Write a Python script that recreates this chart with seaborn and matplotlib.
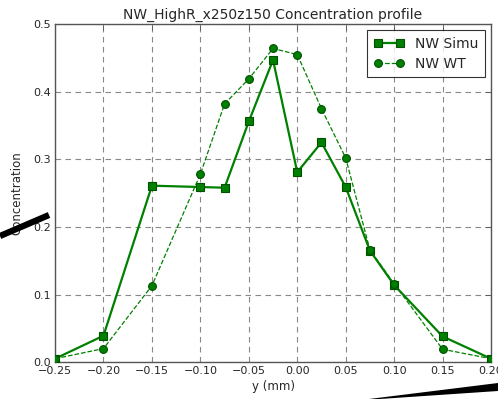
import matplotlib
matplotlib.use("Agg")
import matplotlib.pyplot as plt
from matplotlib.lines import Line2D
from matplotlib.patches import Polygon
import seaborn as sns
import pandas as pd

# Position across the channel (mm)
y_mm = [-0.25, -0.20, -0.15, -0.10, -0.075, -0.05, -0.025, 0.0,
        0.025, 0.05, 0.075, 0.10, 0.15, 0.20]
# Concentration from simulation
nw_simu = [0.005, 0.039, 0.261, 0.259, 0.258, 0.356, 0.447, 0.281,
           0.325, 0.259, 0.165, 0.114, 0.038, 0.005]
# Concentration from wind-tunnel measurement
nw_wt = [0.005, 0.020, 0.113, 0.278, 0.382, 0.419, 0.464, 0.455,
         0.375, 0.302, 0.166, 0.116, 0.019, 0.005]

x_ticks = [-0.25, -0.20, -0.15, -0.10, -0.05, 0.00, 0.05, 0.10, 0.15, 0.20]
y_ticks = [0.0, 0.1, 0.2, 0.3, 0.4, 0.5]

sns.set_style("white")
plt.rcParams["font.family"] = ["DejaVu Sans"]
plt.rcParams["xtick.direction"] = "in"
plt.rcParams["ytick.direction"] = "in"

df = pd.DataFrame({"y": y_mm, "simu": nw_simu, "wt": nw_wt})

fig = plt.figure(figsize=(4.98, 3.99), dpi=100)
ax = fig.add_axes([0.1105, 0.0925, 0.8755, 0.847])

green = "#008000"
sns.lineplot(data=df, x="y", y="simu", ax=ax, color=green, marker="s",
             markersize=6.3, markeredgecolor="#005000", markeredgewidth=0.8,
             linewidth=1.6, label="NW Simu", zorder=3)
sns.lineplot(data=df, x="y", y="wt", ax=ax, color=green, marker="o",
             markersize=5.6, markeredgecolor="#005000", markeredgewidth=0.8,
             linewidth=0.9, linestyle="--", label="NW WT", zorder=3)

ax.set_xlim(-0.25, 0.20)
ax.set_ylim(0.0, 0.5)
ax.set_xticks(x_ticks)
ax.set_yticks(y_ticks)
ax.set_xticklabels([f"{t:.2f}".replace("-", "\u2212") for t in x_ticks], fontsize=8)
ax.set_yticklabels([f"{t:.1f}" for t in y_ticks], fontsize=8)
ax.tick_params(axis="both", which="both", top=True, right=True, length=4,
               width=0.6, color="#555555", pad=3)

ax.grid(True, linestyle=(0, (5, 4)), color="#888888", linewidth=0.8)
ax.set_axisbelow(True)
for s in ax.spines.values():
    s.set_color("#555555")
    s.set_linewidth(1.0)

ax.set_title("NW_HighR_x250z150 Concentration profile", fontsize=10, pad=4)
ax.set_xlabel("y (mm)", fontsize=8.5, labelpad=3)
ax.set_ylabel("Concentration", fontsize=8.5, labelpad=7)

leg = ax.legend(loc="upper right", fontsize=10, numpoints=2, fancybox=False,
                frameon=True, handlelength=2.2, borderpad=0.45,
                labelspacing=0.45, handletextpad=0.8, borderaxespad=0.45)
leg.get_frame().set_edgecolor("black")
leg.get_frame().set_linewidth(0.8)

# dark strokes along the figure edges
W, H = 498.0, 399.0
fig.add_artist(Line2D([0 / W, 49 / W], [1 - 236 / H, 1 - 215 / H],
                      transform=fig.transFigure, color="black", linewidth=4.5,
                      solid_capstyle="butt"))
fig.add_artist(Polygon([[365 / W, 1 - 399.5 / H], [498 / W, 1 - 383 / H],
                        [498 / W, 1 - 391 / H], [365 / W, 1 - 400 / H]],
                       closed=True, transform=fig.transFigure,
                       facecolor="black", edgecolor="none"))

fig.savefig("out.png", dpi=100)
